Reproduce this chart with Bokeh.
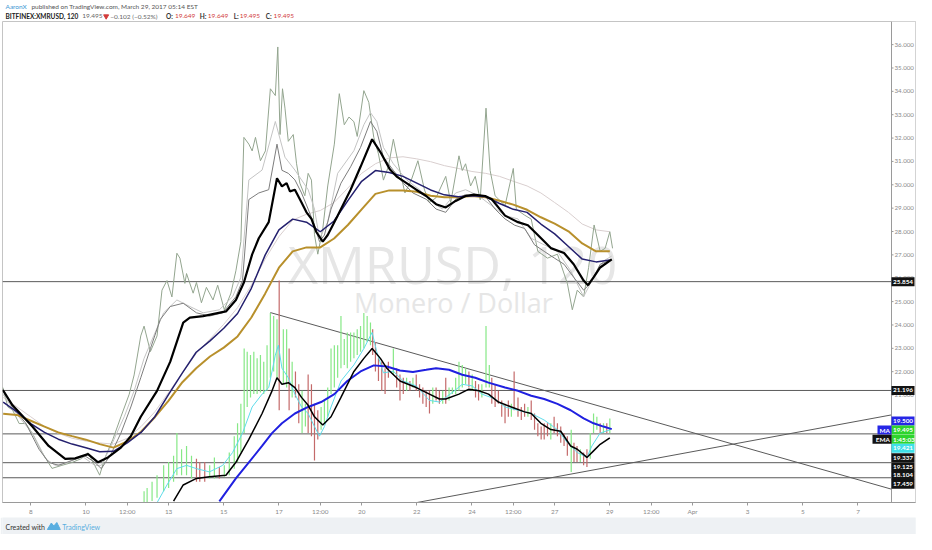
from bokeh.plotting import figure
from bokeh.models import Range1d, FixedTicker
from bokeh.layouts import column
from bokeh.embed import file_html
from bokeh.resources import INLINE
from bokeh.core.properties import value

# ---------------------------------------------------------------- data
# time axis: day of March 2017 (Apr 1 = 32)
x_ticks = [8, 10, 11.5, 13, 15, 17, 18.5, 20, 22, 24, 25.5, 27, 29, 30.5, 32, 34, 36, 38]
x_tick_labels = ["8", "10", "12:00", "13", "15", "17", "12:00", "20", "22", "24",
                 "12:00", "27", "29", "12:00", "Apr", "3", "5", "7"]
y_ticks = [21, 22, 23, 24, 25, 26, 27, 28, 29, 30, 31, 32, 33, 34, 35, 36]
y_tick_labels = ["%.3f" % v for v in y_ticks]

# overlay (upper) series
half_days = [7.0 + 0.5 * i for i in range(45)]
ma_navy = [20.70, 20.28, 19.78, 19.40, 19.11, 18.90, 18.74, 18.57, 18.59, 18.95,
           19.40, 20.07, 21.03, 21.95, 22.83, 23.32, 23.86, 24.49, 25.57, 26.99,
           28.07, 28.53, 28.40, 27.99, 28.45, 29.32, 30.15, 30.61, 30.53, 30.36,
           30.07, 29.78, 29.57, 29.49, 29.53, 29.49, 29.20, 28.95, 28.82, 28.32,
           27.90, 27.36, 26.82, 26.70, 26.78]
ma_gold = [20.20, 20.15, 19.90, 19.65, 19.40, 19.24, 19.09, 18.90, 18.75, 19.01,
           19.43, 20.05, 20.76, 21.55, 22.15, 22.65, 23.03, 23.51, 24.32, 25.34,
           26.45, 27.15, 27.32, 27.32, 27.70, 28.28, 28.95, 29.61, 29.76, 29.76,
           29.70, 29.53, 29.47, 29.47, 29.52, 29.47, 29.32, 29.15, 28.93, 28.61,
           28.34, 28.01, 27.49, 27.15, 27.15]
ma_long = [20.90, 20.49, 20.07, 19.65, 19.36, 19.15, 19.03, 18.95, 18.90, 19.15,
           19.65, 20.28, 21.11, 21.95, 22.78, 23.40, 24.03, 24.74, 25.70, 26.82,
           27.78, 28.49, 28.74, 28.90, 29.24, 29.86, 30.49, 30.90, 31.15, 31.20,
           31.11, 30.99, 30.82, 30.70, 30.57, 30.49, 30.36, 30.15, 29.95, 29.65,
           29.24, 28.82, 28.32, 28.07, 27.99]

ema_top_t = [6.99, 7.34, 8.06, 8.65, 9.25, 9.61, 10.08, 10.44, 10.80, 11.27,
             11.63, 11.99, 12.58, 13.06, 13.53, 13.77, 14.25, 15.08, 15.44, 15.73,
             16.03, 16.27, 16.63, 16.93, 17.11, 17.28, 17.40, 17.58, 17.76, 18.00,
             18.18, 18.35, 18.59, 18.77, 19.13, 19.60, 19.96, 20.38, 20.68, 21.03,
             21.27, 21.63, 21.98, 22.34, 22.70, 23.05, 23.41, 23.77, 24.07, 24.48,
             24.72, 25.20, 25.67, 26.03, 26.39, 26.86, 27.34, 27.69, 28.05, 28.21,
             28.41, 28.65, 29.07]
ema_top = [21.21, 20.56, 19.65, 18.82, 18.27, 18.29, 18.47, 18.12, 18.33, 18.75,
           19.24, 20.07, 21.18, 22.43, 24.10, 24.31, 24.38, 24.58, 25.07, 25.82,
           27.02, 27.71, 28.40, 30.28, 29.93, 30.07, 29.72, 29.79, 29.38, 28.82,
           28.54, 27.99, 27.57, 27.85, 28.68, 29.79, 30.77, 31.95, 31.40, 30.65,
           30.35, 30.07, 29.79, 29.52, 29.17, 29.03, 29.31, 29.52, 29.58, 29.52,
           29.38, 28.68, 28.40, 28.27, 27.85, 27.29, 27.08, 26.60, 25.90, 25.70,
           26.04, 26.46, 26.81]

ovl_close_t = [6.99, 7.17, 7.34, 7.58, 7.82, 8.06, 8.42, 8.77, 9.13, 9.49,
               9.84, 10.08, 10.32, 10.50, 10.68, 10.98, 11.27, 11.57, 11.75, 11.99,
               12.11, 12.34, 12.58, 12.76, 12.94, 13.12, 13.30, 13.41, 13.59, 13.65,
               13.89, 14.01, 14.19, 14.37, 14.61, 14.78, 15.02, 15.26, 15.44, 15.62,
               15.73, 15.91, 16.03, 16.15, 16.33, 16.51, 16.69, 16.87, 16.96, 17.04,
               17.13, 17.22, 17.34, 17.52, 17.64, 17.76, 17.94, 18.06, 18.18, 18.29,
               18.41, 18.59, 18.77, 19.01, 19.19, 19.37, 19.54, 19.72, 19.84, 20.08,
               20.26, 20.44, 20.61, 20.79, 20.97, 21.15, 21.33, 21.57, 21.80, 22.04,
               22.28, 22.46, 22.70, 23.05, 23.23, 23.53, 23.65, 23.77, 23.95, 24.12,
               24.30, 24.51, 24.66, 24.84, 25.20, 25.50, 25.61, 25.91, 26.15, 26.39,
               26.74, 27.10, 27.46, 27.64, 27.82, 28.05, 28.23, 28.43, 28.65, 28.83,
               29.00, 29.10]
ovl_close = [21.32, 20.49, 20.36, 19.78, 19.78, 19.36, 18.53, 17.86, 17.99, 18.11,
             18.28, 18.53, 17.99, 17.57, 18.28, 19.11, 20.07, 21.03, 21.86, 23.53,
             23.95, 22.86, 23.53, 25.49, 25.90, 25.20, 27.07, 26.86, 25.78, 26.20,
             25.36, 25.82, 24.95, 25.61, 25.07, 25.70, 24.65, 25.36, 26.32, 27.57,
             32.03, 31.74, 31.45, 32.03, 31.03, 31.45, 34.11, 33.82, 35.90, 32.15,
             34.11, 33.28, 31.86, 32.15, 30.90, 30.07, 29.53, 30.49, 30.20, 27.86,
             27.03, 28.11, 29.95, 31.74, 33.90, 32.57, 32.90, 32.70, 32.07, 34.03,
             33.53, 32.03, 31.32, 30.20, 30.78, 31.95, 30.90, 29.65, 30.20, 31.03,
             29.78, 29.24, 29.45, 30.36, 29.24, 31.24, 30.61, 30.90, 29.95, 30.36,
             29.36, 33.28, 30.61, 29.53, 29.11, 30.70, 28.95, 28.70, 28.53, 27.15,
             26.86, 27.03, 25.78, 24.65, 25.49, 25.20, 26.45, 28.28, 27.15, 27.28,
             27.99, 27.28]

ovl_fast_t = [6.99, 7.34, 7.82, 8.30, 8.65, 9.01, 9.49, 9.96, 10.32, 10.56,
              10.91, 11.27, 11.63, 11.99, 12.34, 12.70, 13.06, 13.53, 14.01, 14.48,
              14.96, 15.44, 15.68, 15.91, 16.27, 16.63, 16.93, 17.11, 17.34, 17.58,
              17.82, 18.06, 18.29, 18.47, 18.65, 18.89, 19.25, 19.60, 19.96, 20.32,
              20.55, 20.79, 21.15, 21.51, 21.86, 22.34, 22.70, 23.05, 23.41, 23.77,
              24.12, 24.48, 24.84, 25.20, 25.55, 25.91, 26.27, 26.62, 26.98, 27.34,
              27.69, 28.05, 28.29, 28.65, 29.07]
ovl_fast = [21.25, 20.49, 19.79, 18.68, 18.12, 17.99, 18.20, 18.40, 18.12, 17.85,
            18.47, 19.37, 20.49, 21.74, 22.99, 24.24, 24.79, 24.93, 24.52, 24.38,
            24.52, 25.21, 25.90, 29.37, 29.65, 29.79, 31.74, 30.62, 30.49, 30.21,
            29.65, 28.96, 28.27, 27.57, 27.85, 28.96, 30.07, 30.77, 31.60, 32.71,
            32.29, 31.18, 30.62, 30.07, 29.65, 29.38, 28.96, 28.82, 29.38, 29.58,
            29.52, 29.52, 28.96, 28.54, 28.27, 28.13, 27.43, 27.15, 26.87, 26.60,
            26.04, 25.49, 25.77, 26.60, 26.81]

ovl_mid_t = [6.99, 7.47, 8.06, 8.54, 8.89, 9.37, 9.84, 10.32, 10.56, 10.91,
             11.39, 11.75, 12.11, 12.46, 12.82, 13.30, 13.77, 14.25, 14.84, 15.32,
             15.62, 15.91, 16.39, 16.87, 17.22, 17.58, 18.06, 18.29, 18.47, 18.77,
             19.13, 19.72, 20.08, 20.32, 20.55, 20.79, 21.15, 21.63, 22.10, 22.58,
             22.93, 23.41, 23.77, 24.25, 24.72, 25.20, 25.67, 26.15, 26.62, 27.10,
             27.58, 28.05, 28.41, 28.77, 29.07]
ovl_mid = [21.04, 20.21, 19.37, 18.27, 17.99, 18.12, 18.40, 17.99, 17.99, 18.82,
           20.07, 21.18, 22.57, 23.54, 24.52, 25.07, 24.79, 24.52, 24.65, 25.21,
           26.04, 30.21, 30.63, 32.71, 31.18, 30.63, 29.79, 28.96, 27.71, 28.40,
           30.49, 31.46, 32.57, 33.09, 32.71, 31.60, 30.90, 30.21, 29.79, 29.24,
           28.96, 29.65, 29.79, 29.52, 29.10, 28.68, 28.54, 27.71, 27.43, 27.15,
           26.32, 25.21, 26.04, 26.74, 26.95]

# XMRUSD (lower) series
bar_t = [12.11, 12.22, 12.40, 12.58, 12.82, 13.00, 13.18, 13.30, 13.47, 13.65,
         13.83, 14.01, 14.13, 14.31, 14.49, 14.66, 14.84, 15.02, 15.20, 15.38,
         15.50, 15.62, 15.74, 15.85, 15.97, 16.09, 16.21, 16.33, 16.45, 16.57,
         16.69, 16.81, 16.93, 17.01, 17.16, 17.28, 17.37, 17.48, 17.60, 17.72,
         17.84, 17.96, 18.06, 18.18, 18.29, 18.41, 18.53, 18.65, 18.77, 18.89,
         19.01, 19.13, 19.25, 19.37, 19.48, 19.60, 19.72, 19.84, 19.96, 20.08,
         20.20, 20.32, 20.40, 20.50, 20.61, 20.73, 20.85, 20.97, 21.15, 21.27,
         21.39, 21.51, 21.63, 21.75, 21.86, 21.98, 22.10, 22.22, 22.34, 22.46,
         22.58, 22.70, 22.82, 22.94, 23.05, 23.17, 23.29, 23.41, 23.53, 23.65,
         23.77, 23.89, 24.01, 24.13, 24.24, 24.36, 24.51, 24.63, 24.72, 24.84,
         24.96, 25.08, 25.20, 25.32, 25.43, 25.53, 25.67, 25.79, 25.91, 26.03,
         26.15, 26.27, 26.39, 26.51, 26.62, 26.74, 26.86, 26.98, 27.10, 27.22,
         27.34, 27.46, 27.60, 27.70, 27.81, 27.93, 28.05, 28.17, 28.29, 28.41,
         28.53, 28.65, 28.77, 28.89, 29.00]
bar_high = [16.88, 17.02, 17.29, 17.57, 17.99, 18.13, 18.40, 19.38, 18.68, 18.82,
            18.40, 18.27, 18.13, 18.13, 17.99, 18.33, 17.92, 17.99, 18.54, 19.24,
            19.79, 20.63, 22.99, 22.85, 22.71, 22.85, 22.57, 22.71, 22.43, 23.13,
            24.51, 24.38, 24.24, 25.90, 23.82, 23.82, 22.99, 22.43, 22.01, 21.46,
            21.18, 20.63, 21.88, 21.46, 20.63, 20.35, 20.49, 20.77, 21.32, 22.99,
            23.13, 23.13, 24.38, 23.40, 23.68, 23.68, 23.68, 23.82, 23.96, 24.51,
            24.38, 24.10, 23.82, 23.27, 22.57, 22.43, 22.15, 22.43, 22.99, 22.15,
            21.88, 21.74, 21.74, 21.60, 21.74, 21.88, 21.46, 21.32, 21.18, 21.18,
            21.32, 21.32, 21.18, 21.18, 21.74, 21.32, 21.32, 21.74, 22.43, 22.29,
            22.15, 22.01, 21.88, 21.60, 21.46, 21.46, 23.96, 22.29, 21.74, 21.46,
            21.18, 20.77, 20.63, 20.77, 20.63, 22.01, 20.90, 20.49, 20.63, 20.49,
            20.77, 20.21, 19.79, 19.65, 19.79, 19.79, 19.79, 20.07, 19.79, 19.65,
            19.38, 19.24, 19.51, 18.96, 18.82, 18.68, 18.54, 18.68, 19.38, 20.21,
            20.07, 19.79, 19.79, 19.79, 20.00]
bar_low = [16.32, 16.32, 16.46, 16.60, 16.88, 17.02, 17.29, 17.57, 17.57, 17.57,
           17.43, 17.29, 17.29, 17.29, 17.43, 17.43, 17.43, 17.50, 17.57, 17.85,
           18.13, 18.54, 19.38, 20.49, 20.90, 21.04, 21.04, 21.11, 21.04, 21.18,
           21.74, 22.01, 21.74, 20.35, 21.46, 21.32, 20.35, 20.90, 20.90, 19.79,
           19.38, 19.65, 19.38, 19.24, 18.20, 19.10, 19.51, 19.79, 20.07, 21.04,
           21.32, 21.74, 22.15, 22.29, 22.15, 22.43, 22.57, 22.71, 22.85, 22.99,
           23.27, 23.13, 22.71, 22.01, 21.60, 21.18, 21.04, 21.74, 21.88, 21.32,
           20.77, 21.04, 21.18, 21.18, 21.32, 21.18, 20.90, 20.63, 20.49, 20.21,
           20.63, 20.77, 20.63, 20.63, 20.63, 20.77, 21.04, 21.04, 21.18, 21.32,
           21.46, 21.32, 21.18, 20.90, 20.77, 20.90, 21.32, 21.32, 20.63, 20.49,
           20.63, 20.07, 19.79, 20.07, 20.07, 20.35, 20.07, 19.93, 20.07, 20.07,
           19.93, 19.51, 19.24, 19.10, 19.10, 19.24, 19.10, 19.38, 19.24, 18.96,
           18.82, 18.40, 17.71, 18.13, 18.13, 18.13, 17.99, 17.92, 18.27, 19.38,
           19.51, 19.38, 19.38, 19.38, 19.38]
bar_up = [1, 1, 1, 1, 1, 1, 1, 1, 1, 1,
          1, 0, 0, 0, 1, 1, 0, 1, 1, 1,
          1, 1, 1, 1, 1, 1, 1, 1, 1, 1,
          1, 1, 1, 0, 1, 1, 0, 1, 0, 0,
          1, 1, 0, 0, 0, 0, 1, 1, 1, 1,
          1, 1, 1, 1, 1, 1, 1, 1, 1, 1,
          1, 1, 0, 0, 0, 0, 0, 0, 1, 0,
          0, 0, 1, 0, 1, 0, 0, 0, 0, 0,
          1, 0, 0, 1, 0, 1, 1, 1, 1, 1,
          1, 0, 1, 0, 0, 1, 1, 1, 0, 0,
          0, 0, 0, 0, 1, 0, 0, 0, 0, 1,
          0, 0, 0, 0, 0, 0, 1, 0, 0, 0,
          0, 0, 1, 0, 0, 1, 0, 0, 1, 1,
          1, 0, 1, 0, 1]

ema_fast_t = [12.58, 12.94, 13.30, 13.65, 14.01, 14.48, 14.96, 15.32, 15.68, 16.03,
              16.39, 16.63, 16.87, 16.98, 17.11, 17.34, 17.58, 17.82, 18.06, 18.29,
              18.47, 18.65, 18.89, 19.25, 19.72, 20.08, 20.38, 20.55, 20.79, 21.15,
              21.51, 21.98, 22.46, 22.82, 23.29, 23.65, 24.01, 24.36, 24.84, 25.20,
              25.67, 26.15, 26.62, 27.10, 27.46, 27.82, 28.17, 28.35, 28.65, 29.00]
ema_fast = [16.39, 17.15, 17.85, 17.99, 17.85, 17.71, 17.99, 18.54, 19.37, 20.49,
            21.04, 21.32, 22.71, 23.13, 22.15, 21.74, 21.04, 20.49, 20.21, 19.65,
            19.24, 19.65, 20.49, 21.60, 22.29, 22.99, 23.68, 22.85, 21.95, 22.02,
            21.60, 21.39, 20.77, 20.70, 21.11, 21.46, 21.39, 21.04, 20.83, 20.49,
            20.35, 20.21, 19.93, 19.52, 18.96, 18.54, 18.33, 18.82, 19.37, 19.51]

ema_bot_t = [13.18, 13.53, 14.01, 14.48, 15.08, 15.44, 15.91, 16.39, 16.75, 16.93,
             17.11, 17.34, 17.58, 17.82, 18.06, 18.29, 18.59, 18.89, 19.25, 19.72,
             20.08, 20.38, 20.68, 20.91, 21.39, 21.98, 22.46, 22.82, 23.05, 23.53,
             23.89, 24.25, 24.60, 24.96, 25.43, 25.91, 26.15, 26.50, 26.86, 27.22,
             27.58, 27.82, 28.17, 28.41, 28.65, 29.00]
ema_bot = [16.46, 17.15, 17.43, 17.50, 17.57, 18.12, 19.10, 20.21, 21.18, 21.74,
           21.46, 21.53, 21.32, 20.90, 20.56, 20.07, 19.72, 20.07, 20.90, 22.01,
           22.57, 22.99, 22.57, 22.15, 21.60, 21.32, 21.04, 20.83, 20.83, 21.04,
           21.25, 21.18, 21.04, 20.70, 20.49, 20.28, 20.21, 19.79, 19.52, 19.45,
           18.82, 18.68, 18.33, 18.61, 18.89, 19.17]

ma_blue_t = [14.84, 15.44, 15.91, 16.39, 16.75, 17.11, 17.58, 18.06, 18.53, 19.01,
             19.48, 19.96, 20.44, 20.91, 21.39, 21.86, 22.34, 22.70, 23.17, 23.65,
             24.12, 24.60, 25.20, 25.67, 26.15, 26.62, 27.10, 27.58, 28.05, 28.41,
             28.77, 29.07]
ma_blue = [16.45, 17.43, 18.12, 18.82, 19.37, 19.79, 20.21, 20.49, 20.70, 21.04,
           21.60, 22.01, 22.27, 22.22, 22.05, 21.99, 22.08, 22.15, 22.08, 21.87,
           21.74, 21.53, 21.32, 21.18, 20.97, 20.83, 20.62, 20.35, 20.00, 19.79,
           19.65, 19.54]

# drawn levels and trend lines
h_levels = [25.854, 21.196, 19.337, 18.104, 17.459]
trend_x0 = [16.69, 22.01]
trend_y0 = [24.53, 16.40]
trend_x1 = [39.215, 39.215]
trend_y1 = [16.97, 20.15]

# right-scale tags: text, background, stacked position
tag_text = ["25.854", "21.196", "19.500", "19.495", "1:45:03", "19.421",
            "19.337", "19.125", "18.104", "17.459"]
tag_bg = ["#131313", "#131313", "#2626e6", "#2ed42e", "#2ed42e", "#3fe0e8",
          "#131313", "#131313", "#131313", "#131313"]
tag_pos = [25.854, 21.196, 19.89, 19.50, 19.11, 18.72, 18.32, 17.93, 17.56, 17.18]
side_tags = ["MA", "EMA"]
side_bg = ["#2626e6", "#131313"]
side_pos = [19.50, 19.11]

watermark_symbol = "XMRUSD, 120"
watermark_desc = "Monero / Dollar"

header_line1 = ["AaronX", "published on TradingView.com, March 29, 2017 05:14 EST"]
header_line2 = ["BITFINEX:XMRUSD, 120", "19.495", "\u22120.102 (\u22120.52%)",
                "O:", "19.649", "H:", "19.649", "L:", "19.495", "C:", "19.495"]
footer_text = ["Created with", "TradingView"]

# ---------------------------------------------------------------- layout
W = 916
FONT = value("Lato")
X0, X1 = 6.976, 39.215          # time span of the chart pane
Y0, Y1 = 16.40, 36.99
FRAME_W, PANE_W = 913, 889       # frame = chart pane + price-scale strip
PX = (X1 - X0) / PANE_W          # days per pixel
X_END = X0 + PX * FRAME_W

# header
hd = figure(width=W, height=20, x_range=Range1d(0, W), y_range=Range1d(20, 0),
            x_axis_type=None, y_axis_type=None, toolbar_location=None,
            output_backend="svg", min_border=0, outline_line_color=None)
hd.grid.visible = False
hd.text(x=[3, 29], y=[5.5, 5.5], text=header_line1,
        text_color=["#3b97d3", "#555555"], text_font=FONT,
        text_font_size=value("6.5px"), text_baseline="middle")
h2_x = [3, 80, 108, 164, 173, 198, 206, 232, 238, 264, 272]
h2_col = ["#222222", "#666666", "#666666", "#333333", "#d23c3c", "#333333",
          "#d23c3c", "#333333", "#d23c3c", "#333333", "#d23c3c"]
h2_style = ["bold", "normal", "normal", "bold", "normal", "bold", "normal",
            "bold", "normal", "bold", "normal"]
hd.text(x=h2_x, y=[15.5] * len(h2_x), text=header_line2, text_color=h2_col,
        text_font_style=h2_style, text_font=FONT,
        text_font_size=value("6.5px"), text_baseline="middle")
hd.scatter(x=[104], y=[15.8], marker="inverted_triangle", size=5,
           color="#d23c3c", line_color="#d23c3c")

# main chart (frame includes the price-scale strip on the right)
p = figure(width=W, height=497, x_range=Range1d(X0, X_END), y_range=Range1d(Y0, Y1),
           y_axis_location=None, toolbar_location=None, output_backend="svg",
           min_border_left=2, min_border_right=1, min_border_top=1,
           min_border_bottom=15, outline_line_color="#c4c4c4")
p.grid.visible = False
p.background_fill_color = "white"
p.border_fill_color = "white"

xa = p.xaxis[0]
xa.ticker = FixedTicker(ticks=x_ticks)
xa.major_label_overrides = {t: s for t, s in zip(x_ticks, x_tick_labels)}
xa.axis_line_color = "#9a9a9a"
xa.major_tick_line_color = "#9a9a9a"
xa.minor_tick_line_color = None
xa.major_tick_in = 0
xa.major_tick_out = 3
xa.major_label_standoff = 2
xa.major_label_text_font = "Lato"
xa.major_label_text_font_size = "6.4px"
xa.major_label_text_color = "#8a8a8a"

# watermark
p.text(x=[17.33], y=[26.61], text=[watermark_symbol], text_font=value("Open Sans"),
       text_font_size=value("52px"), text_color="#e6e6e6", text_baseline="alphabetic")
p.text(x=[19.72], y=[24.95], text=[watermark_desc], text_font=value("Open Sans"),
       text_font_size=value("27px"), text_color="#e6e6e6", text_baseline="alphabetic")

# horizontal levels and trend lines (stop at the price scale)
p.segment(x0=[X0] * len(h_levels), y0=h_levels, x1=[X1] * len(h_levels), y1=h_levels,
          line_color="#5a5a5a", line_width=1)
p.segment(x0=trend_x0, y0=trend_y0, x1=trend_x1, y1=trend_y1,
          line_color="#5a5a5a", line_width=1)

# upper overlay lines
p.line(half_days, ma_long, line_color="#d9cfcf", line_width=1)
p.line(ovl_close_t, ovl_close, line_color="#93a58f", line_width=1)
p.line(ovl_mid_t, ovl_mid, line_color="#c4c4c4", line_width=1)
p.line(ovl_fast_t, ovl_fast, line_color="#7d7d7d", line_width=1)
p.line(half_days, ma_gold, line_color="#b8902c", line_width=2)
p.line(half_days, ma_navy, line_color="#24206e", line_width=1.5)
p.line(ema_top_t, ema_top, line_color="#000000", line_width=2.2)

# lower bars
up_t = [t for t, u in zip(bar_t, bar_up) if u]
up_h = [h for h, u in zip(bar_high, bar_up) if u]
up_l = [l for l, u in zip(bar_low, bar_up) if u]
dn_t = [t for t, u in zip(bar_t, bar_up) if not u]
dn_h = [h for h, u in zip(bar_high, bar_up) if not u]
dn_l = [l for l, u in zip(bar_low, bar_up) if not u]
p.segment(x0=up_t, y0=up_l, x1=up_t, y1=up_h, line_color="#86e886", line_width=1.2)
p.segment(x0=dn_t, y0=dn_l, x1=dn_t, y1=dn_h, line_color="#c46a6a", line_width=1.2)

p.line(ema_fast_t, ema_fast, line_color="#5fdcea", line_width=1)
p.line(ma_blue_t, ma_blue, line_color="#2020e0", line_width=2)
p.line(ema_bot_t, ema_bot, line_color="#000000", line_width=1.5)

# price scale strip: white background, axis line, ticks and labels
p.quad(left=[X1], right=[X_END], bottom=[Y0], top=[Y1], fill_color="white",
       line_color=None)
p.segment(x0=[X1], y0=[Y0], x1=[X1], y1=[Y1], line_color="#9a9a9a", line_width=1)
p.segment(x0=[X1] * len(y_ticks), y0=y_ticks, x1=[X1 + 2 * PX] * len(y_ticks),
          y1=y_ticks, line_color="#9a9a9a", line_width=1)
p.text(x=[X1 + 3 * PX] * len(y_ticks), y=y_ticks, text=y_tick_labels,
       text_font=FONT, text_font_size=value("6.2px"), text_color="#8a8a8a",
       text_baseline="middle", text_align="left")

# value tags on the price scale
p.rect(x=[X1 + 11.5 * PX] * len(tag_text), y=tag_pos, width=23, height=9,
       width_units="screen", height_units="screen", fill_color=tag_bg,
       line_color=None)
p.text(x=[X1 + 1.5 * PX] * len(tag_text), y=tag_pos, text=tag_text,
       text_font=FONT, text_font_size=value("6.4px"), text_font_style="bold",
       text_color="white", text_baseline="middle", text_align="left")
side_w = [14, 19]
p.rect(x=[X1 - w / 2 * PX for w in side_w], y=side_pos, width=side_w, height=9,
       width_units="screen", height_units="screen", fill_color=side_bg,
       line_color=None)
p.text(x=[X1 - 1.5 * PX] * len(side_tags), y=side_pos, text=side_tags,
       text_font=FONT, text_font_size=value("6.4px"), text_font_style="bold",
       text_color="white", text_baseline="middle", text_align="right")

# footer
ft = figure(width=W, height=17, x_range=Range1d(0, W), y_range=Range1d(17, 0),
            x_axis_type=None, y_axis_type=None, toolbar_location=None,
            output_backend="svg", min_border=0, outline_line_color=None)
ft.grid.visible = False
ft.background_fill_color = "#eef1f4"
ft.border_fill_color = "#eef1f4"
ft.text(x=[3, 60], y=[9, 9], text=footer_text, text_color=["#333333", "#5aaee0"],
        text_font=FONT, text_font_size=value("7px"), text_baseline="middle")
ft.patch(x=[45, 49, 51.5, 54.5, 58], y=[12, 5.5, 8.5, 5, 12], color="#5aaee0")

layout = column(hd, p, ft, spacing=0)
open("out.html", "w").write(file_html(layout, INLINE))
